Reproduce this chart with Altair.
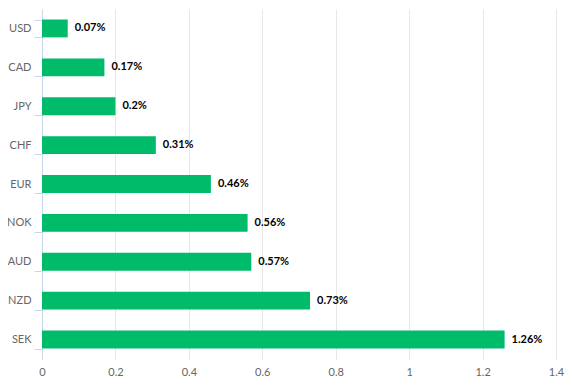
import altair as alt
import pandas as pd

currencies = ["USD", "CAD", "JPY", "CHF", "EUR", "NOK", "AUD", "NZD", "SEK"]
values = [0.07, 0.17, 0.2, 0.31, 0.46, 0.56, 0.57, 0.73, 1.26]
labels = ["0.07%", "0.17%", "0.2%", "0.31%", "0.46%", "0.56%", "0.57%", "0.73%", "1.26%"]
x_ticks = [0, 0.2, 0.4, 0.6, 0.8, 1, 1.2, 1.4]

df = pd.DataFrame({"cur": currencies, "val": values, "lab": labels})

FONT = "Lato"

y = alt.Y("cur:N", sort=currencies, title=None,
          scale=alt.Scale(paddingInner=0.54, paddingOuter=0.27),
          axis=alt.Axis(tickBand="extent", tickSize=8, tickColor="#ccd6eb",
                        domainColor="#ccd6eb", labelColor="#666666", labelFont=FONT,
                        labelFontSize=11, labelPadding=3, grid=False))
x = alt.X("val:Q", title=None,
          scale=alt.Scale(domain=[0, 1.4], nice=False),
          axis=alt.Axis(values=x_ticks, format="~g", domain=False, ticks=False,
                        gridColor="#e6e6e6", labelColor="#666666", labelFont=FONT,
                        labelFontSize=11, labelPadding=7, labelFlush=False))

bars = alt.Chart(df).mark_bar(color="#00bb6a").encode(x=x, y=y)
text = alt.Chart(df).mark_text(align="left", baseline="middle", dx=7, font=FONT,
                               fontSize=11, fontWeight="bold", color="#000000").encode(
    x="val:Q", y=alt.Y("cur:N", sort=currencies), text="lab:N")

chart = (bars + text).properties(
    width=514, height=350,
    autosize=alt.AutoSizeParams(type="none"),
    padding={"left": 34, "top": 1, "right": 8, "bottom": 21},
).configure_view(stroke=None)

chart.save("out.html", embed_options={"renderer": "svg", "actions": False})
